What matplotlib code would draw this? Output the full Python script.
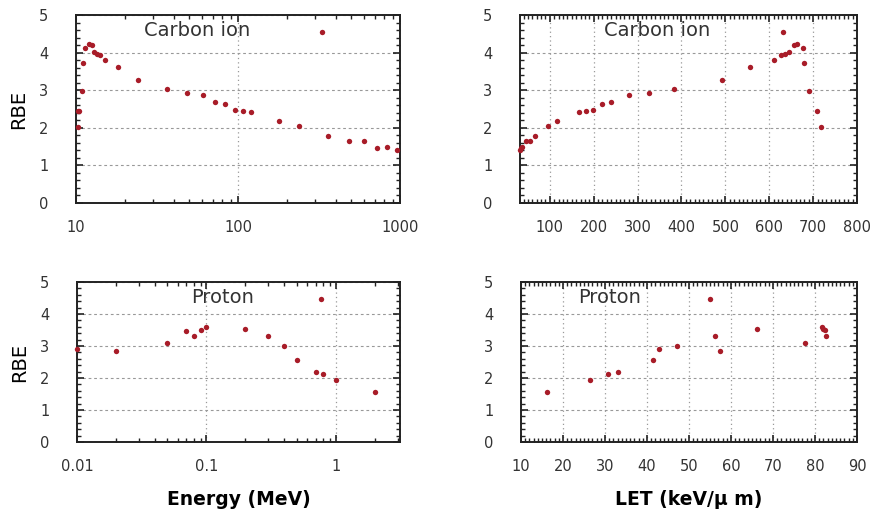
import numpy as np
import matplotlib
matplotlib.use("Agg")
import matplotlib.pyplot as plt
from matplotlib.ticker import MultipleLocator, LogLocator, NullFormatter, FixedLocator

# carbon ion: energy (MeV) vs RBE
c_energy = [10.24, 10.25, 10.5, 10.9, 11.1, 11.4, 12.0, 12.5, 13.0, 13.5, 14.1, 15.1,
            18.2, 24.2, 36.2, 48.1, 60.4, 72.4, 83.5, 96.3, 108, 120, 180, 239,
            332, 359, 481, 598, 721, 827, 962]
c_energy_rbe = [2.01, 2.45, 2.45, 2.99, 3.72, 4.13, 4.22, 4.20, 4.01, 3.96, 3.93, 3.81,
                3.63, 3.27, 3.04, 2.92, 2.88, 2.68, 2.63, 2.48, 2.45, 2.42, 2.19, 2.06,
                4.54, 1.77, 1.65, 1.65, 1.45, 1.48, 1.42]

# carbon ion: LET (keV/um) vs RBE
c_let = [32, 35, 37, 46.7, 54.3, 67.3, 94.7, 116.7, 165.4, 181.4, 199, 218, 240,
         279.6, 325, 383.9, 492, 556.6, 611, 627, 631, 637, 646, 656, 663, 676,
         680, 690, 709, 719]
c_let_rbe = [1.42, 1.45, 1.48, 1.65, 1.65, 1.77, 2.06, 2.19, 2.42, 2.45, 2.48, 2.63, 2.68,
             2.88, 2.92, 3.04, 3.27, 3.63, 3.81, 3.93, 4.54, 3.96, 4.01, 4.20, 4.22, 4.13,
             3.72, 2.99, 2.45, 2.01]

# proton: energy (MeV) vs RBE
p_energy = [0.01, 0.02, 0.05, 0.07, 0.08, 0.09, 0.1, 0.2, 0.3, 0.4, 0.5, 0.7, 0.77, 0.8, 1.0, 2.0]
p_energy_rbe = [2.92, 2.84, 3.08, 3.47, 3.32, 3.51, 3.60, 3.53, 3.32, 3.01, 2.56, 2.18, 4.48, 2.11, 1.94, 1.55]

# proton: LET (keV/um) vs RBE
p_let = [16.2, 26.4, 30.8, 33.2, 41.5, 42.8, 47.2, 55.0, 56.1, 57.4, 66.3, 77.6, 81.6, 82.0, 82.3, 82.7]
p_let_rbe = [1.55, 1.94, 2.11, 2.18, 2.56, 2.91, 3.01, 4.48, 3.32, 2.84, 3.53, 3.08, 3.60, 3.53, 3.51, 3.32]

plt.rcParams['font.family'] = ['DejaVu Sans']
dot = '#a81c28'
edge = '#222222'
tickc = '#333333'

fig = plt.figure(figsize=(8.72, 5.14), dpi=100)
W, H = 872.0, 514.0

def mkax(l, r, t, b):
    return fig.add_axes([l / W, 1 - b / H, (r - l) / W, (b - t) / H])

ax1 = mkax(76, 400, 15, 203)
ax2 = mkax(520, 857, 15, 203)
ax3 = mkax(77, 400, 282, 442)
ax4 = mkax(521, 857, 282, 442)

def style(ax):
    ax.set_ylim(0, 5)
    ax.yaxis.set_major_locator(MultipleLocator(1))
    ax.yaxis.set_minor_locator(MultipleLocator(0.2))
    for s in ax.spines.values():
        s.set_color(edge)
        s.set_linewidth(1.4)
    ax.tick_params(which='both', direction='in', top=True, right=True, colors=edge,
                   labelcolor=tickc, labelsize=10.5)
    ax.tick_params(axis='y', which='major', pad=20)
    ax.tick_params(axis='x', which='major', pad=12)
    ax.tick_params(which='major', length=5, width=1.2)
    ax.tick_params(which='minor', length=3, width=1.0)
    ax.grid(True, which='major', axis='y', color='#999999', linestyle=(0, (2.5, 2.5)), linewidth=0.8)
    ax.grid(True, which='major', axis='x', color='#999999', linestyle=(0, (1, 2.5)), linewidth=0.9)
    ax.set_axisbelow(True)

# carbon vs energy
ax1.scatter(c_energy, c_energy_rbe, s=15, color=dot, zorder=3, clip_on=False, linewidths=0)
ax1.set_xscale('log')
ax1.set_xlim(10, 1000)
style(ax1)
ax1.xaxis.set_minor_locator(LogLocator(base=10, subs=np.arange(2, 10)))
ax1.xaxis.set_minor_formatter(NullFormatter())
ax1.xaxis.set_major_locator(FixedLocator([10, 100, 1000]))
ax1.set_xticklabels(['10', '100', '1000'])
ax1.text(0.373, 0.92, 'Carbon ion', transform=ax1.transAxes, ha='center', va='center',
         fontsize=14, color='#333333')
ax1.set_ylabel('RBE', fontsize=14, labelpad=8)

# carbon vs LET
ax2.scatter(c_let, c_let_rbe, s=15, color=dot, zorder=3, clip_on=False, linewidths=0)
ax2.set_xlim(32, 800)
style(ax2)
ax2.xaxis.set_major_locator(FixedLocator([100, 200, 300, 400, 500, 600, 700, 800]))
ax2.xaxis.set_minor_locator(MultipleLocator(10))
ax2.text(0.407, 0.92, 'Carbon ion', transform=ax2.transAxes, ha='center', va='center',
         fontsize=14, color='#333333')

# proton vs energy
ax3.scatter(p_energy, p_energy_rbe, s=15, color=dot, zorder=3, clip_on=False, linewidths=0)
ax3.set_xscale('log')
ax3.set_xlim(0.01, 3.13)
style(ax3)
ax3.xaxis.set_minor_locator(LogLocator(base=10, subs=np.arange(2, 10)))
ax3.xaxis.set_minor_formatter(NullFormatter())
ax3.xaxis.set_major_locator(FixedLocator([0.01, 0.1, 1]))
ax3.set_xticklabels(['0.01', '0.1', '1'])
ax3.text(0.452, 0.906, 'Proton', transform=ax3.transAxes, ha='center', va='center',
         fontsize=14, color='#333333')
ax3.set_ylabel('RBE', fontsize=14, labelpad=8)
ax3.set_xlabel('Energy (MeV)', fontsize=13.5, fontweight='bold', labelpad=12)

# proton vs LET
ax4.scatter(p_let, p_let_rbe, s=15, color=dot, zorder=3, clip_on=False, linewidths=0)
ax4.set_xlim(10, 90)
style(ax4)
ax4.xaxis.set_major_locator(MultipleLocator(10))
ax4.xaxis.set_minor_locator(MultipleLocator(1))
ax4.text(0.265, 0.906, 'Proton', transform=ax4.transAxes, ha='center', va='center',
         fontsize=14, color='#333333')
ax4.set_xlabel('LET (keV/\u03bc m)', fontsize=13.5, fontweight='bold', labelpad=12)

fig.savefig('out.png', dpi=100)
